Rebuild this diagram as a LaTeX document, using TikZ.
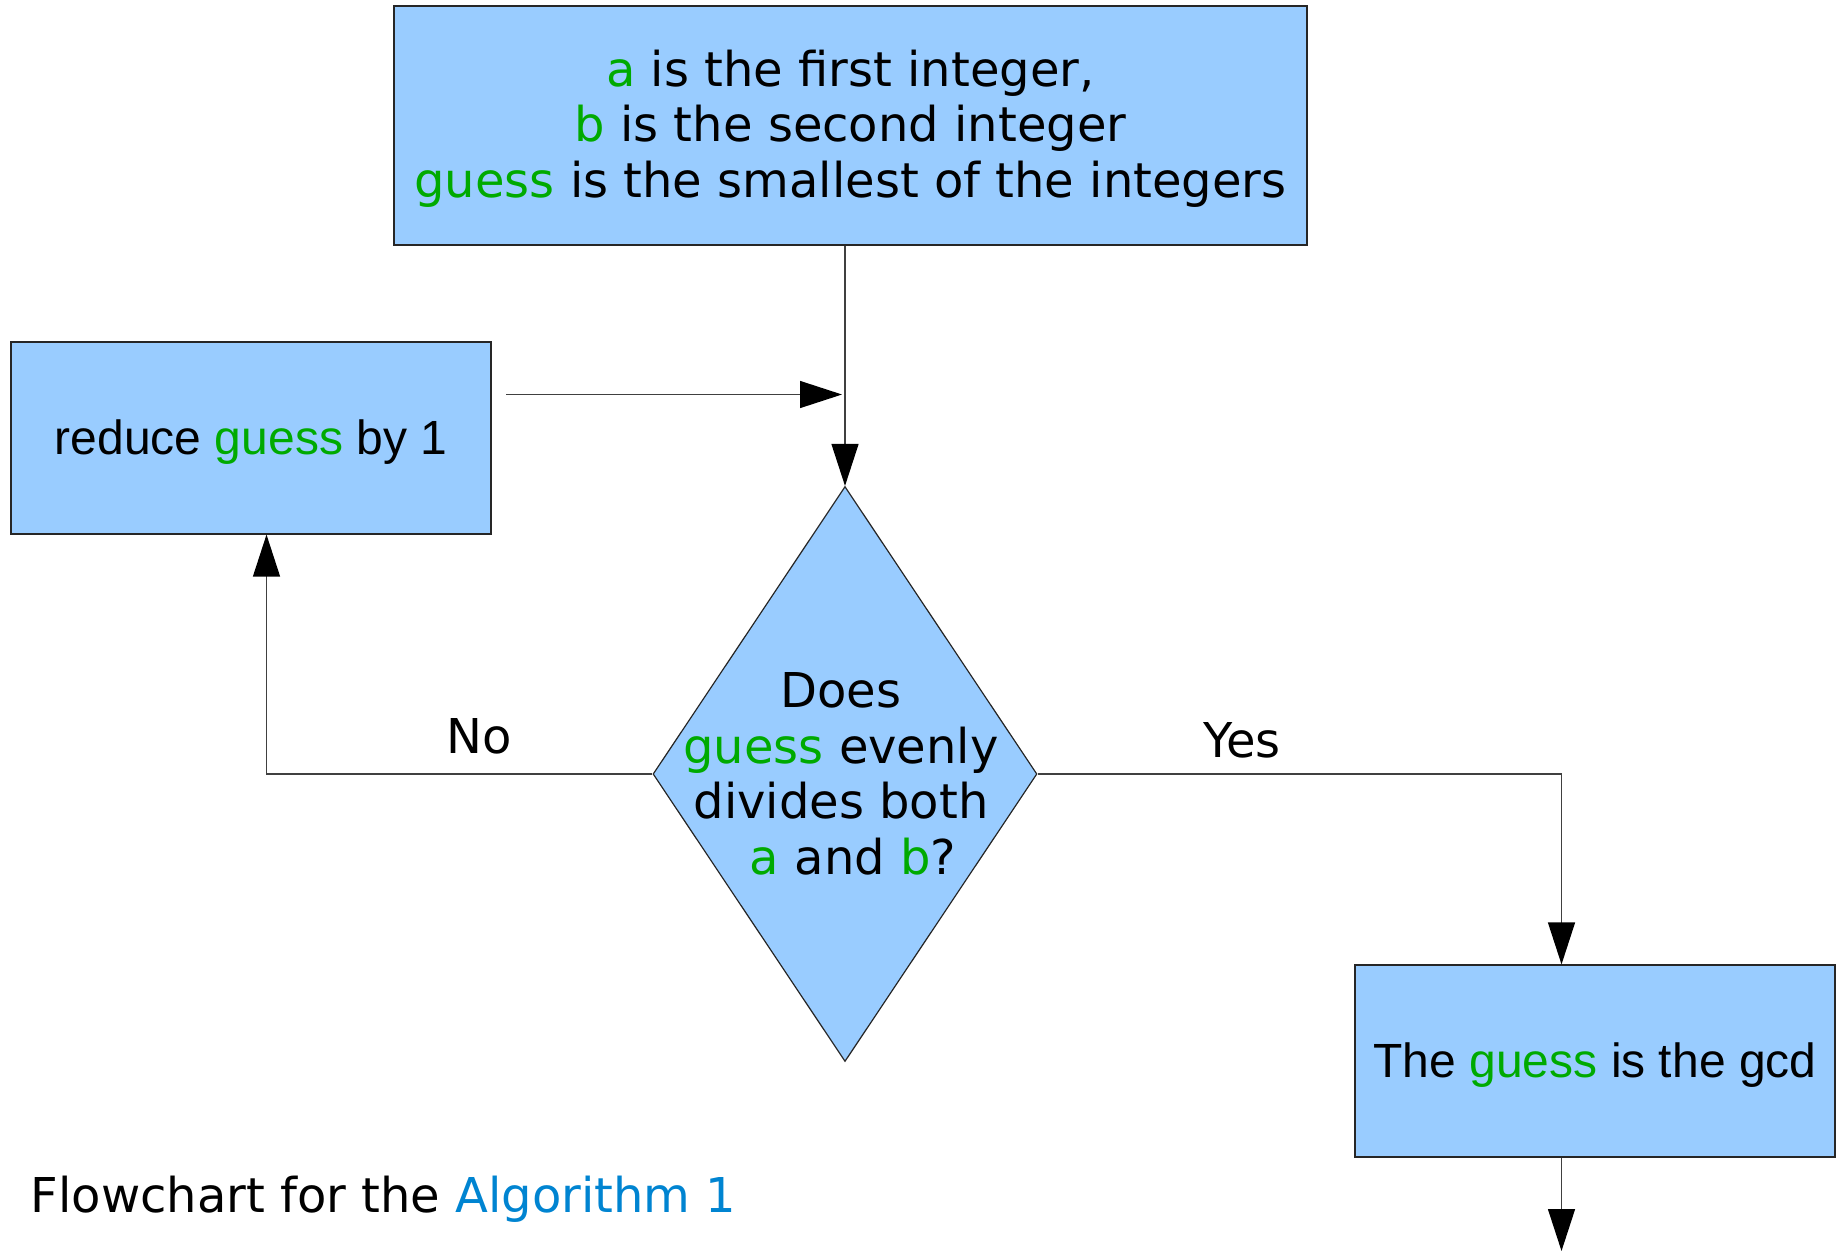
\documentclass[tikz,border=0pt]{standalone}
\usepackage{fontspec}
\setmainfont{DejaVu Sans}
\newfontfamily\arialfont{Liberation Sans}
\usetikzlibrary{shapes.geometric,arrows.meta}

\definecolor{boxblue}{HTML}{99CCFF}
\definecolor{guessgreen}{RGB}{0,170,0}
\definecolor{algoblue}{HTML}{0084D1}
\newcommand{\gvar}[1]{\textcolor{guessgreen}{#1}}

\begin{document}
\begin{tikzpicture}[
    x=1pt, y=-1pt,
    start/.style={
        rectangle,
        minimum width=913pt,
        minimum height=239pt,
        text depth=4pt,
        draw=black!85,
        line width=1.2pt,
        fill=boxblue,
        align=center,
        font=\fontsize{48}{55.5}\selectfont
    },
    block/.style={
        rectangle,
        minimum width=480pt,
        minimum height=192pt,
        text depth=2.5pt,
        draw=black!85,
        line width=1.2pt,
        fill=boxblue,
        font=\arialfont\fontsize{48}{55.5}\selectfont
    },
    decision/.style={
        diamond,
        minimum width=384pt,
        minimum height=575pt,
        inner sep=0pt,
        draw=black!85,
        line width=1.2pt,
        fill=boxblue
    },
    lbl/.style={font=\fontsize{48}{55.5}\selectfont, align=center},
    flow/.style={-{Triangle[length=42pt,width=27pt,color=black]}, line width=1.3pt, draw=black!75}
]
\useasboundingbox (0,0) rectangle (1841,1251);

\node[start] (init) at (850.5,125.5) {\gvar{a} is the first integer,\\
    \gvar{b} is the second integer\\
    \gvar{guess} is the smallest of the integers};
\node[decision, label={[lbl, xshift=-4pt]center:{Does\\\gvar{guess} evenly\\divides both\\\hspace*{0.5em}\gvar{a} and \gvar{b}?}}] (dec) at (845,774) {};
\node[block] (reduce) at (251,438) {reduce \gvar{guess} by 1};
\node[block] (gcd) at (1595,1061) {The \gvar{guess} is the gcd};

\coordinate (back) at (506,394.5);
\coordinate (nobend) at (266.5,774);
\coordinate (yesbend) at (1561.5,774);
\coordinate (exit) at (1561.5,1251);

% Start
\draw[flow] (init.south -| dec.north) -- (dec.north);

% No branch
\draw[flow] (dec.west) -- (nobend) -- (nobend |- reduce.south);
\node[lbl] (no) at (479,736) {No};
\draw[flow] (back) -- ([xshift=-3pt]back -| dec.north);

% Yes branch
\draw[flow] (dec.east) -- (yesbend) -- (yesbend |- gcd.north);
\node[lbl] (yes) at (1242,740) {Yes};
\draw[flow] (gcd.south -| exit) -- (exit);

\node[lbl, anchor=base west, inner sep=0pt] (caption) at (30.5,1212) {Flowchart for the \textcolor{algoblue}{Algorithm 1}};

\end{tikzpicture}
\end{document}
